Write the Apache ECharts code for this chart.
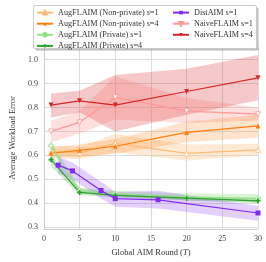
<!DOCTYPE html>
<html><head><meta charset="utf-8">
<script src="https://cdn.jsdelivr.net/npm/echarts@6/dist/echarts.min.js"></script>
<style>html,body{margin:0;padding:0;background:#fff}#c{width:266px;height:262px}</style>
</head><body><div id="c"></div>
<script>
// ---- data ----
const roundsAug = [1, 5, 10, 20, 30];
const roundsDist = [2, 4, 8, 10, 16, 30];
const augNpS1 = [0.616, 0.609, 0.650, 0.608, 0.623];
const augNpS1Lo = [0.590, 0.585, 0.612, 0.578, 0.600];
const augNpS1Hi = [0.640, 0.635, 0.690, 0.645, 0.648];
const augNpS4 = [0.609, 0.621, 0.638, 0.696, 0.723];
const augNpS4Lo = [0.595, 0.593, 0.607, 0.655, 0.675];
const augNpS4Hi = [0.634, 0.645, 0.668, 0.740, 0.770];
const augPS1 = [0.641, 0.452, 0.440, 0.425, 0.420];
const augPS1Lo = [0.620, 0.440, 0.430, 0.410, 0.405];
const augPS1Hi = [0.660, 0.465, 0.452, 0.440, 0.438];
const augPS4 = [0.582, 0.445, 0.433, 0.421, 0.410];
const augPS4Lo = [0.553, 0.433, 0.424, 0.412, 0.400];
const augPS4Hi = [0.605, 0.461, 0.442, 0.430, 0.420];
const dist = [0.559, 0.535, 0.453, 0.419, 0.414, 0.359];
const distLo = [0.525, 0.500, 0.420, 0.385, 0.378, 0.327];
const distHi = [0.595, 0.570, 0.490, 0.447, 0.452, 0.388];
const naiveS1 = [0.700, 0.738, 0.842, 0.785, 0.772];
const naiveS1Lo = [0.655, 0.690, 0.750, 0.735, 0.745];
const naiveS1Hi = [0.745, 0.785, 0.930, 0.840, 0.800];
const naiveS4 = [0.810, 0.828, 0.810, 0.867, 0.924];
const naiveS4Lo = [0.758, 0.780, 0.700, 0.770, 0.830];
const naiveS4Hi = [0.859, 0.870, 0.936, 0.962, 1.020];
const yTicks = [0.3, 0.4, 0.5, 0.6, 0.7, 0.8, 0.9, 1.0];
const xTicks = [0, 5, 10, 15, 20, 25, 30];

const FONT = 'Liberation Serif';
const C = {
  npS1: '#ffbb78', npS4: '#ff7f0e', pS1: '#98df8a', pS4: '#2ca02c',
  dist: '#7f2bf0', nS1: '#ff9896', nS4: '#d62728'
};
const plusPath = 'path://M1,0H2V1H3V2H2V3H1V2H0V1H1Z';
const downTri = 'path://M0,0L2,0L1,1.8Z';

function zip(xs, ys) { return xs.map((x, i) => [x, ys[i]]); }
function band(name, xs, lo, hi, color, op) {
  const rows = xs.map((x, i) => [x, lo[i], hi[i]]);
  return {
    type: 'custom', name: name + ' band', data: rows, z: 1, silent: true,
    clip: true,
    renderItem: function (params, api) {
      if (params.dataIndex !== 0) return null;
      const pts = [];
      rows.forEach(r => pts.push(api.coord([r[0], r[1]])));
      for (let i = rows.length - 1; i >= 0; i--) pts.push(api.coord([rows[i][0], rows[i][2]]));
      return { type: 'polygon', shape: { points: pts }, style: { fill: color, opacity: op } };
    },
    encode: { x: 0, y: 1 }
  };
}
function line(name, xs, ys, color, symbol, size, rot, fill) {
  return {
    type: 'line', name: name, data: zip(xs, ys), z: 3,
    symbol: symbol, symbolSize: size, symbolRotate: rot || 0,
    showAllSymbol: true,
    lineStyle: { color: color, width: 1.2 },
    itemStyle: { color: fill || color, borderColor: color, borderWidth: fill ? 0.8 : 0 },
    emphasis: { disabled: true }, animation: false, clip: false
  };
}

const chart = echarts.init(document.getElementById('c'), null, { renderer: 'canvas' });
chart.setOption({
  animation: false,
  textStyle: { fontFamily: FONT },
  grid: { left: 29, right: 8, top: 47, bottom: 29 },
  xAxis: {
    type: 'value', min: 0, max: 30, interval: 5,
    name: 'Global AIM Round ({i|T})', nameLocation: 'middle', nameGap: 19,
    nameTextStyle: { fontFamily: FONT, fontSize: 8.5, color: '#333',
      rich: { i: { fontStyle: 'italic', fontFamily: FONT, fontSize: 8.5, color: '#333' } } },
    axisLine: { show: true, lineStyle: { color: '#ccc', width: 1 } },
    axisTick: { show: false },
    axisLabel: { fontFamily: FONT, fontSize: 8, color: '#444', margin: 6, customValues: xTicks },
    splitLine: { show: true, lineStyle: { color: '#ddd', width: 1 } }
  },
  yAxis: {
    type: 'value', min: 0.292, max: 1.053,
    name: 'Average Workload Error', nameLocation: 'middle', nameGap: 16, nameRotate: 90,
    nameTextStyle: { fontFamily: FONT, fontSize: 8.5, color: '#333' },
    axisLine: { show: true, lineStyle: { color: '#ccc', width: 1 } },
    axisTick: { show: false, customValues: yTicks },
    axisLabel: { fontFamily: FONT, fontSize: 8, color: '#444', margin: 6, customValues: yTicks,
      formatter: v => v.toFixed(1) },
    splitLine: { show: true, lineStyle: { color: '#ddd', width: 1 } }
  },
  legend: [
    { left: 36, top: 8, orient: 'vertical', itemGap: 1.9, itemWidth: 16, itemHeight: 4.5, z: 10,
      textStyle: { fontFamily: FONT, fontSize: 8.2, color: '#333', lineHeight: 9.2 },
      padding: 0,
      data: ['AugFLAIM (Non-private) s=1', 'AugFLAIM (Non-private) s=4', 'AugFLAIM (Private) s=1', 'AugFLAIM (Private) s=4'] },
    { left: 172, top: 8, orient: 'vertical', itemGap: 1.9, itemWidth: 16, itemHeight: 4.5, z: 10,
      textStyle: { fontFamily: FONT, fontSize: 8.2, color: '#333', lineHeight: 9.2 },
      padding: 0,
      data: ['DistAIM s=1', 'NaiveFLAIM s=1', 'NaiveFLAIM s=4'] }
  ],
  graphic: [
    { type: 'rect', z: 8, shape: { x: 35.5, y: 7.5, width: 223, height: 43, r: 1.5 }, style: { fill: 'rgba(0,0,0,0.25)' } },
    { type: 'rect', z: 9, shape: { x: 33.5, y: 5.5, width: 223, height: 43, r: 1.5 }, style: { fill: '#fff', stroke: '#ccc', lineWidth: 1 } }
  ],
  series: [
    band('nS1', roundsAug, naiveS1Lo, naiveS1Hi, C.nS1, 0.3),
    band('nS4', roundsAug, naiveS4Lo, naiveS4Hi, C.nS4, 0.25),
    band('npS1', roundsAug, augNpS1Lo, augNpS1Hi, C.npS1, 0.3),
    band('npS4', roundsAug, augNpS4Lo, augNpS4Hi, C.npS4, 0.22),
    band('pS1', roundsAug, augPS1Lo, augPS1Hi, C.pS1, 0.35),
    band('pS4', roundsAug, augPS4Lo, augPS4Hi, C.pS4, 0.22),
    band('dist', roundsDist, distLo, distHi, C.dist, 0.22),
    line('AugFLAIM (Non-private) s=1', roundsAug, augNpS1, C.npS1, 'triangle', 5, 0, '#fff'),
    line('AugFLAIM (Non-private) s=4', roundsAug, augNpS4, C.npS4, 'triangle', 5),
    line('AugFLAIM (Private) s=1', roundsAug, augPS1, C.pS1, plusPath, 5, 0, '#fff'),
    line('AugFLAIM (Private) s=4', roundsAug, augPS4, C.pS4, plusPath, 5),
    line('DistAIM s=1', roundsDist, dist, C.dist, 'rect', 5),
    line('NaiveFLAIM s=1', roundsAug, naiveS1, C.nS1, downTri, 5, 0, '#fff'),
    line('NaiveFLAIM s=4', roundsAug, naiveS4, C.nS4, downTri, 5)
  ]
});
</script></body></html>
